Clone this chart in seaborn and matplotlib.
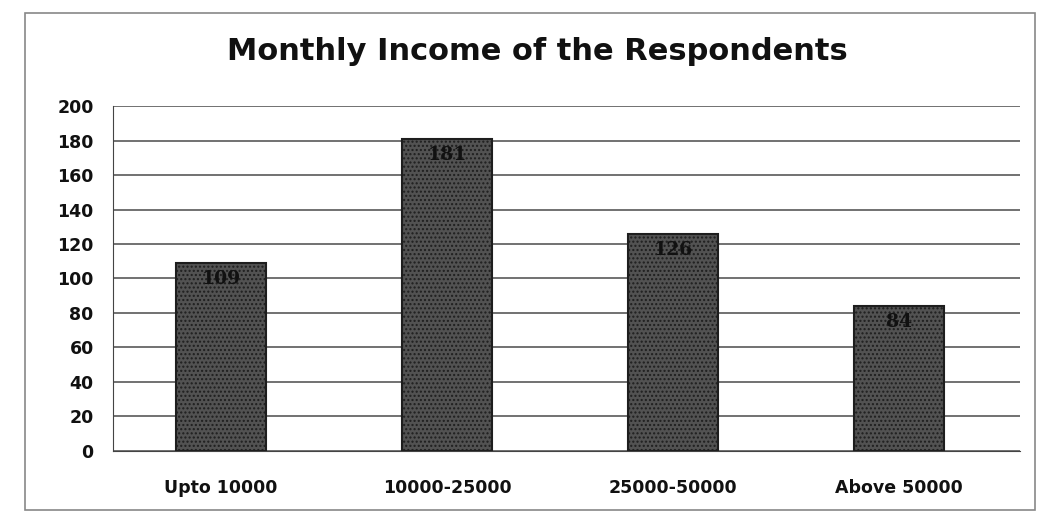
import pandas as pd
import seaborn as sns
import matplotlib.pyplot as plt
from matplotlib.patches import Rectangle

sns.set_style("white")
plt.rcParams['font.family'] = ['DejaVu Sans']

# Data
income_groups = ["Upto 10000", "10000-25000", "25000-50000", "Above 50000"]
respondents = [109, 181, 126, 84]
y_ticks = [0, 20, 40, 60, 80, 100, 120, 140, 160, 180, 200]

df = pd.DataFrame({"Income": income_groups, "Respondents": respondents})

fig = plt.figure(figsize=(10.47, 5.2), dpi=100)
ax = fig.add_axes([0.108, 0.133, 0.866, 0.663])

sns.barplot(data=df, x="Income", y="Respondents", color="#525252",
            width=0.4, edgecolor="#1e1e1e", linewidth=1.5, ax=ax, zorder=3)
for p in ax.patches:
    p.set_hatch("....")

ax.set_ylim(0, 200)
ax.set_xlim(-0.478, 3.535)
ax.set_yticks(y_ticks)
ax.yaxis.grid(True, color="#4a4a4a", linewidth=1.1, zorder=0)
ax.set_xlabel("")
ax.set_ylabel("")
for s in ["top", "right"]:
    ax.spines[s].set_visible(False)
ax.spines["left"].set_color("#444444")
ax.spines["bottom"].set_color("#444444")
ax.tick_params(axis="y", length=0, labelsize=12.5, pad=14)
ax.tick_params(axis="x", length=0, labelsize=12.5, pad=20)
for lbl in ax.get_xticklabels() + ax.get_yticklabels():
    lbl.set_fontweight("bold")
    lbl.set_color("#111111")

# value labels inside top of bars
for i, v in enumerate(respondents):
    ax.text(i, v - 4, str(v), ha="center", va="top", fontsize=13.5,
            fontweight="bold", family="DejaVu Serif", color="#111111", zorder=5)

fig.text(0.513, 0.9, "Monthly Income of the Respondents", ha="center",
         va="center", fontsize=22, fontweight="semibold", color="#111111")

# outer chart border
fig.patches.append(Rectangle((0.024, 0.02), 0.965, 0.955, transform=fig.transFigure,
                             fill=False, edgecolor="#888888", linewidth=1.2))

fig.savefig("out.png", dpi=100)
